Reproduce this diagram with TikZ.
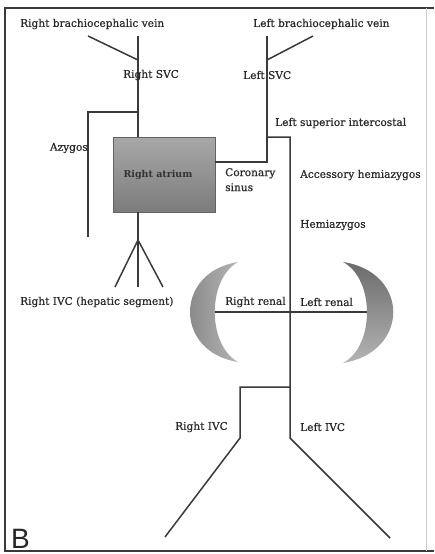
\documentclass[tikz,border=0pt]{standalone}
\usepackage{fontspec}
\setmainfont{DejaVu Serif}
\newfontfamily\lblfont{DejaVu Serif}[BoldFont={DejaVu Serif},BoldFeatures={FakeBold=0.7}]
\setsansfont{Liberation Sans}
\definecolor{ln}{HTML}{3A3A3A}
\definecolor{boxtop}{HTML}{A8A8A8}
\definecolor{boxbot}{HTML}{7C7C7C}
\definecolor{crl}{HTML}{B4B4B4}
\definecolor{crd}{HTML}{7E7E7E}
\definecolor{txt}{HTML}{2A2A2A}
\begin{document}
\begin{tikzpicture}[x=1pt,y=-1pt,
  vessel/.style={draw=ln,line width=1.5pt,line join=miter},
  lbl/.style={font=\lblfont\bfseries\fontsize{10.6}{15}\selectfont,text=txt,inner sep=0pt,anchor=west},
  crescent/.style={draw=none}]
\useasboundingbox (0,0) rectangle (434,554);
\fill[white] (0,0) rectangle (434,554);
% frame
\draw[ln,line width=1.2pt] (434,8) -- (5,8) -- (5,551) -- (434,551);
\draw[gray!40,line width=0.6pt] (426,8) -- (426,551);
% coordinates
\coordinate (rsvcTop) at (138,36);
\coordinate (rbcEnd) at (88,36);
\coordinate (rbcJ) at (138,60);
\coordinate (azJ) at (138,112);
\coordinate (azC) at (88,112);
\coordinate (azEnd) at (88,237);
\coordinate (lsvcTop) at (267,36);
\coordinate (lbcJ) at (267,60);
\coordinate (lbcEnd) at (313,36);
\coordinate (lsiJ) at (267,137);
\coordinate (csC) at (267,162);
\coordinate (hzTop) at (290,137);
\coordinate (hzJ) at (290,387);
\coordinate (livcK) at (290,438);
\coordinate (livcEnd) at (390,538);
\coordinate (rivcC) at (240,387);
\coordinate (rivcK) at (240,438);
\coordinate (rivcEnd) at (165,537);
\coordinate (hepApex) at (138,240);
\coordinate (hepL) at (115,287);
\coordinate (hepM) at (138,287);
\coordinate (hepR) at (163,287);
\coordinate (renL) at (215,312);
\coordinate (renR) at (367,312);
% right atrium
\node[draw=boxbot!80!black,line width=0.4pt,top color=boxtop,bottom color=boxbot,
  minimum width=102pt,minimum height=75pt,inner sep=0pt] (ra) at (164,174.5) {};
\node[font=\fontsize{9.5}{14}\selectfont\bfseries,text=black!80,inner sep=0pt] (ratxt) at (158,175) {Right atrium};
% crescents
\shade[crescent,left color=crd,right color=crl]
  (238,262) .. controls (174,272) and (174,352) .. (238,362)
  .. controls (207,345) and (207,279) .. (238,262) -- cycle;
\shade[crescent,top color=crd!85!black,bottom color=crl]
  (343,262) .. controls (410,272) and (410,352) .. (343,363)
  .. controls (375,346) and (375,279) .. (343,262) -- cycle;
% vessels
\draw[vessel] (rsvcTop) -- (ra.north -| rsvcTop);
\draw[vessel] (rbcEnd) -- (rbcJ);
\draw[vessel] (azJ) -- (azC) -- (azEnd);
\draw[vessel] (lsvcTop) -- (csC) -- (csC -| ra.east);
\draw[vessel] (lbcJ) -- (lbcEnd);
\draw[vessel] (lsiJ) -- (hzTop) -- (livcK) -- (livcEnd);
\draw[vessel] (hzJ) -- (rivcC) -- (rivcK) -- (rivcEnd);
\draw[vessel] (ra.south -| hepApex) -- (hepApex);
\draw[vessel] (hepApex) -- (hepL);
\draw[vessel] (hepApex) -- (hepM);
\draw[vessel] (hepApex) -- (hepR);
\draw[vessel] (renL) -- (renR);
% labels
\node[lbl] (t1) at (20,24) {Right brachiocephalic vein};
\node[lbl] (t2) at (253,24) {Left brachiocephalic vein};
\node[lbl] (t3) at (123,75) {Right SVC};
\node[lbl] (t4) at (243,75) {Left SVC};
\node[lbl] (t5) at (275,123) {Left superior intercostal};
\node[lbl,anchor=east] (t6) at (88,148) {Azygos};
\node[lbl,align=left,anchor=north west] (t7) at (225,168) {Coronary\\sinus};
\node[lbl] (t8) at (300,175) {Accessory hemiazygos};
\node[lbl] (t9) at (300,225) {Hemiazygos};
\node[lbl] (t10) at (20,302) {Right IVC (hepatic segment)};
\node[lbl] (t11) at (225,302) {Right renal};
\node[lbl] (t12) at (300,302) {Left renal};
\node[lbl] (t13) at (175,427) {Right IVC};
\node[lbl] (t14) at (300,427) {Left IVC};
\node[font=\sffamily\fontsize{28}{30}\selectfont,text=black!85,inner sep=0pt,anchor=south west] (B) at (11,549) {B};
\end{tikzpicture}
\end{document}
